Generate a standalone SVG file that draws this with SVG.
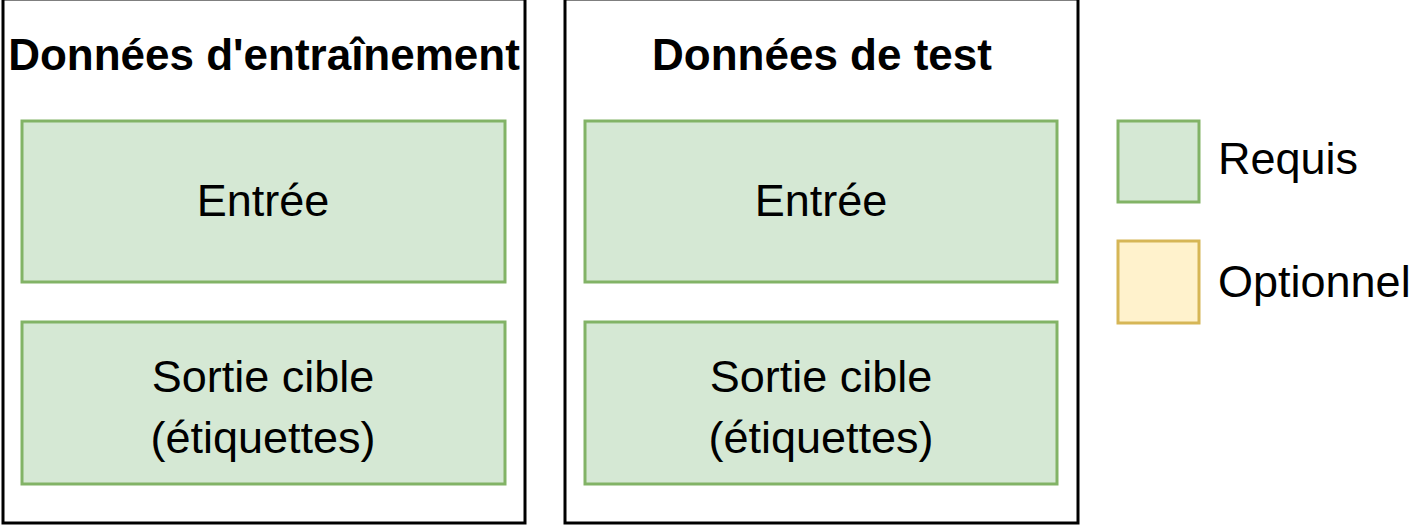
<svg xmlns="http://www.w3.org/2000/svg" width="1420" height="528" viewBox="0 0 1420 528">
<style>
.outer{fill:#ffffff;stroke:#000000;stroke-width:3}
.req{fill:#d5e8d4;stroke:#82b366;stroke-width:3}
.opt{fill:#fff2cc;stroke:#d6b656;stroke-width:3}
.title{font-family:"Liberation Sans",Arial,sans-serif;font-weight:bold;font-size:44px;fill:#000;text-anchor:middle}
.lbl{font-family:"Liberation Sans",Arial,sans-serif;font-size:45px;fill:#000;text-anchor:middle}
.leg{font-family:"Liberation Sans",Arial,sans-serif;font-size:45px;fill:#000}
</style>
<rect width="1420" height="528" fill="#ffffff"/>
<g id="train">
<rect class="outer" x="3" y="-1" width="522" height="524"/>
<text class="title" x="264" y="70">Données d'entraînement</text>
</g>
<g id="train-input">
<rect class="req" x="22" y="121" width="483" height="161"/>
<text class="lbl" x="263" y="216">Entrée</text>
</g>
<g id="train-output">
<rect class="req" x="22" y="322" width="483" height="162"/>
<text class="lbl" x="263" y="392">Sortie cible</text>
<text class="lbl" x="263" y="453">(étiquettes)</text>
</g>
<g id="test">
<rect class="outer" x="565" y="-1" width="513" height="524"/>
<text class="title" x="822" y="70">Données de test</text>
</g>
<g id="test-input">
<rect class="req" x="585" y="121" width="472" height="161"/>
<text class="lbl" x="821" y="216">Entrée</text>
</g>
<g id="test-output">
<rect class="req" x="585" y="322" width="472" height="162"/>
<text class="lbl" x="821" y="392">Sortie cible</text>
<text class="lbl" x="821" y="453">(étiquettes)</text>
</g>
<g id="legend-required">
<rect class="req" x="1118" y="121" width="81" height="81"/>
<text class="leg" x="1218" y="174">Requis</text>
</g>
<g id="legend-optional">
<rect class="opt" x="1118" y="241" width="81" height="82"/>
<text class="leg" x="1218" y="297">Optionnel</text>
</g>
<g id="connectors"></g>
</svg>
